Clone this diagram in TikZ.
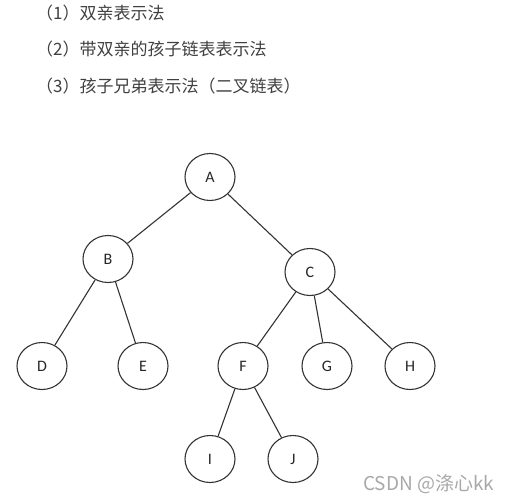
\documentclass[tikz,border=0pt]{standalone}
\usepackage{fontspec}
\setmainfont{Carlito}
\newfontfamily\cjk{Noto Sans CJK SC}
\usepackage{tikz}
\usetikzlibrary{shapes.geometric,positioning}

\definecolor{linegray}{HTML}{333333}
\definecolor{textgray}{HTML}{404040}
\definecolor{markgray}{HTML}{A8A8A8}

\tikzset{
    treenode/.style={ellipse, draw=linegray, line width=1.1pt, minimum width=50pt, minimum height=47pt, inner sep=0pt, font=\fontsize{16pt}{18pt}\selectfont, text=black!85},
    edge/.style={draw=linegray, line width=1.1pt},
    heading/.style={anchor=west, font=\cjk\fontsize{17pt}{20pt}\selectfont, text=textgray, inner sep=0pt},
}

\begin{document}
\begin{tikzpicture}[x=1pt, y=-1pt]
    \useasboundingbox (0,0) rectangle (514,501);
    % headings
    \node[heading] (h1) at (36,13) {（1）双亲表示法};
    \node[heading] (h2) at (36,49) {（2）带双亲的孩子链表表示法};
    \node[heading] (h3) at (36,86) {（3）孩子兄弟表示法（二叉链表）};
    % tree
    \node[treenode] (a) at (210,177) {A};
    \node[treenode] (b) at (108,259) {B};
    \node[treenode] (c) at (310,272) {C};
    \node[treenode] (d) at (42,366) {D};
    \node[treenode] (e) at (143,366) {E};
    \node[treenode] (f) at (243,366) {F};
    \node[treenode] (g) at (327,366) {G};
    \node[treenode] (h) at (410,366) {H};
    \node[treenode] (i) at (210,459) {I};
    \node[treenode] (j) at (293,459) {J};
    \draw[edge] (a) -- (b);
    \draw[edge] (a) -- (c);
    \draw[edge] (b) -- (d);
    \draw[edge] (b) -- (e);
    \draw[edge] (c) -- (f);
    \draw[edge] (c) -- (g);
    \draw[edge] (c) -- (h);
    \draw[edge] (f) -- (i);
    \draw[edge] (f) -- (j);
    % watermark
    \node[anchor=west, inner sep=0pt, text=markgray, font=\cjk\fontsize{19pt}{22pt}\selectfont] (mark) at (363,484) {CSDN @涤心kk};
\end{tikzpicture}
\end{document}
